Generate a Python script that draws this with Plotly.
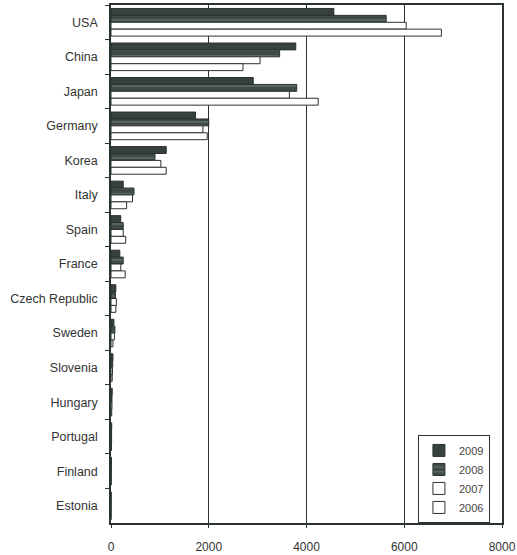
import plotly.graph_objects as go

countries = ["USA", "China", "Japan", "Germany", "Korea", "Italy", "Spain", "France",
             "Czech Republic", "Sweden", "Slovenia", "Hungary", "Portugal", "Finland", "Estonia"]
years = ["2009", "2008", "2007", "2006"]
v2009 = [4560, 3780, 2910, 1730, 1130, 250, 200, 180, 100, 60, 40, 25, 15, 10, 5]
v2008 = [5630, 3450, 3800, 2000, 900, 470, 250, 250, 90, 80, 35, 20, 12, 8, 4]
v2007 = [6040, 3050, 3650, 1880, 1020, 440, 250, 200, 110, 70, 30, 20, 12, 8, 4]
v2006 = [6760, 2700, 4240, 1970, 1130, 320, 300, 290, 100, 40, 25, 15, 10, 6, 3]
x_ticks = [0, 2000, 4000, 6000, 8000]

series = [v2009, v2008, v2007, v2006]
fills = ["#37413e", "#3f4946", "#ffffff", "#ffffff"]

fig = go.Figure()
for name, vals, col in zip(years, series, fills):
    marker = dict(color=col, line=dict(color="#2b3331", width=1))
    if name == "2008":
        marker["pattern"] = dict(shape="-", fgcolor="#9aa29f", size=6, solidity=0.2)
    fig.add_trace(go.Bar(y=countries, x=vals, name=name, orientation="h", marker=marker))

fig.update_layout(
    width=517, height=555,
    margin=dict(l=111, r=15, t=5, b=32, autoexpand=False),
    barmode="group", bargap=0.2, bargroupgap=0.0,
    plot_bgcolor="white", paper_bgcolor="white",
    font=dict(family="Liberation Sans, Arial, sans-serif", size=12.5, color="#333333"),
    legend=dict(x=0.785, y=0.17, xanchor="left", yanchor="top",
                bgcolor="white", bordercolor="#2b3331", borderwidth=1,
                font=dict(size=11, color="#444444"), traceorder="normal",
                itemwidth=30, tracegroupgap=4),
    showlegend=True,
)
fig.update_xaxes(range=[0, 8000], tickvals=x_ticks, ticktext=[str(t) for t in x_ticks],
                 showgrid=True, gridcolor="#2b3331", gridwidth=1,
                 showline=True, linecolor="#2b3331", linewidth=1.5, mirror=True,
                 ticks="outside", ticklen=3, tickcolor="#2b3331", ticklabelstandoff=9,
                 ticklabeloverflow="allow", tickfont=dict(size=12),
                 automargin=False, zeroline=False)
fig.update_yaxes(autorange="reversed", showline=True, linecolor="#2b3331", linewidth=1.5,
                 mirror=True, automargin=False,
                 ticks="outside", ticklen=4, tickcolor="#2b3331", tickson="boundaries",
                 ticklabelstandoff=9, showgrid=False)

fig.write_html("out.html")
